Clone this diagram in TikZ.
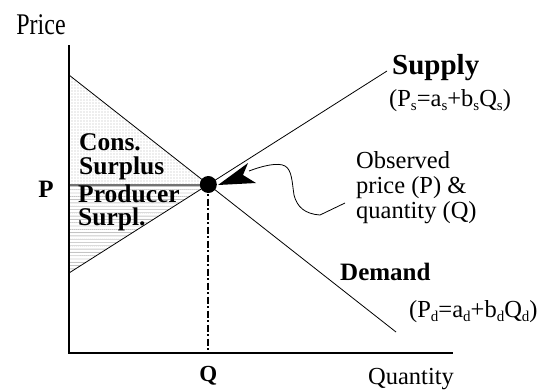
\documentclass[tikz,border=0pt]{standalone}
\usepackage{fontspec}
\setmainfont{Liberation Serif}
\usetikzlibrary{patterns,calc}
\pgfdeclarepatternformonly{consdots}{\pgfqpoint{-0.6pt}{-0.6pt}}{\pgfqpoint{0.6pt}{0.6pt}}{\pgfqpoint{3pt}{3pt}}{\pgfpathcircle{\pgfqpoint{0pt}{0pt}}{0.45pt}\pgfusepath{fill}}
\pgfdeclarepatternformonly{proddots}{\pgfqpoint{-0.6pt}{-0.6pt}}{\pgfqpoint{0.6pt}{0.6pt}}{\pgfqpoint{2pt}{3.3pt}}{\pgfpathcircle{\pgfqpoint{0pt}{0pt}}{0.45pt}\pgfusepath{fill}}
\newcommand\lowsub[1]{\raisebox{-0.35ex}{\fontsize{15}{15}\selectfont #1}}
\tikzset{
  axis/.style={line width=1.3pt},
  curveline/.style={line width=0.8pt},
  txt/.style={inner sep=0pt, font=\fontsize{24.5}{25}\selectfont},
  btxt/.style={inner sep=0pt, font=\fontsize{25}{25}\selectfont\bfseries},
}
\begin{document}
\begin{tikzpicture}[x=1pt,y=-1pt]
\useasboundingbox (0,0) rectangle (553,391);
% key points
\coordinate (O) at (69,353);
\coordinate (ytop) at (69,45);
\coordinate (xend) at (453,353);
\coordinate (dA) at (69,75);
\coordinate (dB) at (396,332);
\coordinate (sA) at (69,273);
\coordinate (sB) at (387,71);
\coordinate (E) at (intersection of dA--dB and sA--sB);
\coordinate (Pl) at (O |- E);
\coordinate (Qb) at (E |- O);
% surplus areas
\fill[pattern=consdots, pattern color=black!80] (dA) -- (E) -- (Pl) -- cycle;
\fill[pattern=proddots, pattern color=black!80] (Pl) -- (E) -- (sA) -- cycle;
% price line
\draw[line width=2pt, black!55] (Pl) -- (E);
% axes
\draw[axis] (ytop) -- (O) -- (xend);
% supply / demand
\draw[curveline] (dA) -- (dB);
\draw[curveline] (sA) -- (sB);
% quantity line
\draw[line width=2pt, dash pattern=on 7pt off 2.5pt on 2pt off 2.5pt] (E) -- (Qb);
% equilibrium dot
\node[circle, fill=black, minimum size=17pt, inner sep=0pt] (dot) at (E) {};
% labels
\node (price) at (41,25) {\scalebox{0.8}[1]{\fontsize{30}{30}\selectfont Price}};
\node[btxt] (Plab) at (46,189) {P};
\node[btxt, font=\fontsize{23}{23}\selectfont\bfseries] (Qlab) at (E |- 0,376) {Q};
\node[txt] (quant) at (411,379) {Quantity};
\node[btxt, anchor=west, font=\fontsize{29}{29}\selectfont\bfseries] (sup) at (392,68) {Supply};
\node[txt, anchor=west] (supf) at (389,101) {(P\lowsub{s}=a\lowsub{s}+b\lowsub{s}Q\lowsub{s})};
\node[btxt, anchor=west] (dem) at (340,272) {Demand};
\node[txt, anchor=west] (demf) at (409,312) {(P\lowsub{d}=a\lowsub{d}+b\lowsub{d}Q\lowsub{d})};
\node[btxt, anchor=west, align=left, font=\fontsize{25.5}{24}\selectfont\bfseries] (cs) at (79,157) {Cons.\\Surplus};
\node[btxt, anchor=west, align=left, font=\fontsize{25.5}{23}\selectfont\bfseries] (ps) at (78,208) {Producer\\Surpl.};
\node[txt, anchor=west, align=left] (obs) at (356,188) {Observed\\price (P) \&\\quantity (Q)};
% pointer curve and arrowhead
\coordinate (c0) at (obs.west |- 0,203);
\coordinate (c0) at ($(c0)+(-11,0)$);
\coordinate (tip) at (218,185);
\draw[line width=0.8pt] (c0) -- (320,215) .. controls (305,214) and (297,207) .. (294,195)
   .. controls (292,182) and (292,170) .. (285,166) .. controls (278,162) and (262,166) .. (249,171);
\fill (tip) -- (248,163) -- (243,175) -- (256,183) -- cycle;
\end{tikzpicture}
\end{document}
